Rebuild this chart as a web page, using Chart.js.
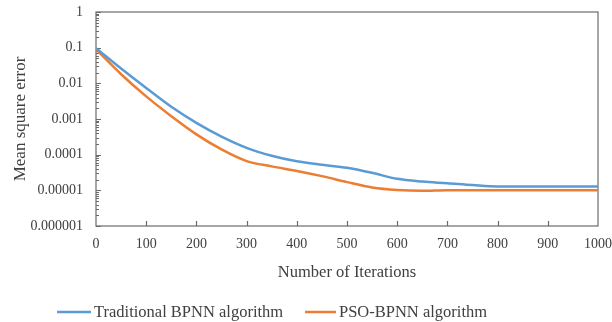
<!DOCTYPE html>
<html>
<head>
<meta charset="utf-8">
<script src="https://cdn.jsdelivr.net/npm/chart.js@4/dist/chart.umd.min.js"></script>
<style>
  html, body { margin: 0; padding: 0; background: #fff; }
  #wrap { width: 612px; height: 322px; }
</style>
</head>
<body>
<div id="wrap"><canvas id="mse-chart" width="612" height="322"></canvas></div>
<script>
// iterations and mean square error
const iterations = [0, 50, 100, 150, 200, 250, 300, 350, 400, 450, 500, 550, 600, 650, 700, 750, 800, 850, 900, 950, 1000];
const bpnnError = [0.097, 0.026, 0.0074, 0.0022, 0.00078, 0.00032, 0.000155, 0.000093, 0.000065, 0.000052, 0.000043, 0.000031, 0.000021, 0.0000176, 0.0000158, 0.000014, 0.0000128, 0.0000128, 0.0000128, 0.0000128, 0.0000128];
const psoError = [0.09, 0.018, 0.0043, 0.0012, 0.00037, 0.00014, 0.000066, 0.000047, 0.000035, 0.000025, 0.000017, 0.000012, 0.0000102, 0.0000097, 0.0000101, 0.00001, 0.00001, 0.00001, 0.00001, 0.00001, 0.00001];
const seriesNames = ['Traditional BPNN algorithm', 'PSO-BPNN algorithm'];
const yTicks = [0.000001, 0.00001, 0.0001, 0.001, 0.01, 0.1, 1];

const serif = 'Liberation Serif';
const textColor = '#404040';
const frameColor = '#6b6b6b';

function toPoints(ys) {
    return iterations.map((x, i) => ({ x: x, y: ys[i] }));
}

// frame, inner tick marks and legend drawn by hand
const framePlugin = {
    id: 'frame',
    beforeDatasetsDraw(chart) {
        const { ctx, chartArea: a, scales } = chart;
        ctx.save();
        ctx.strokeStyle = frameColor;
        ctx.lineWidth = 1.2;
        ctx.strokeRect(a.left, a.top, a.right - a.left, a.bottom - a.top);

        // log minor ticks on the y axis
        ctx.beginPath();
        for (let d = 0; d < yTicks.length; d++) {
            const base = yTicks[d];
            for (let k = 1; k <= 9; k++) {
                const v = base * k;
                if (v > 1) break;
                const py = Math.round(scales.y.getPixelForValue(v)) + 0.5;
                const len = k === 1 ? 5 : 3;
                ctx.moveTo(a.left, py);
                ctx.lineTo(a.left + len, py);
            }
        }
        // x ticks pointing up
        for (let v = 100; v < 1000; v += 100) {
            const px = Math.round(scales.x.getPixelForValue(v)) + 0.5;
            ctx.moveTo(px, a.bottom);
            ctx.lineTo(px, a.bottom - 5);
        }
        ctx.stroke();
        ctx.restore();
    },
    afterDraw(chart) {
        const ctx = chart.ctx;
        const sets = chart.data.datasets;
        const y = 312;
        const lineStart = [57, 305];
        const lineEnd = [91, 336];
        ctx.save();
        ctx.font = '16.5px "' + serif + '"';
        ctx.textBaseline = 'middle';
        ctx.fillStyle = textColor;
        sets.forEach((ds, i) => {
            ctx.strokeStyle = ds.borderColor;
            ctx.lineWidth = 2.5;
            ctx.beginPath();
            ctx.moveTo(lineStart[i], y);
            ctx.lineTo(lineEnd[i], y);
            ctx.stroke();
            ctx.fillText(ds.label, lineEnd[i] + 3, y + 1);
        });
        ctx.restore();
    }
};

const ctx = document.getElementById('mse-chart').getContext('2d');
new Chart(ctx, {
    type: 'line',
    data: {
        datasets: [{
            label: seriesNames[0],
            data: toPoints(bpnnError),
            borderColor: '#5b9bd5',
            borderWidth: 2.5,
            pointRadius: 0,
            cubicInterpolationMode: 'monotone'
        }, {
            label: seriesNames[1],
            data: toPoints(psoError),
            borderColor: '#ed7d31',
            borderWidth: 2.5,
            pointRadius: 0,
            cubicInterpolationMode: 'monotone'
        }]
    },
    options: {
        responsive: false,
        animation: false,
        layout: { autoPadding: false, padding: { left: 6, right: 14, top: 12, bottom: 35 } },
        plugins: {
            legend: { display: false },
            tooltip: { enabled: false }
        },
        scales: {
            x: {
                type: 'linear',
                min: 0,
                max: 1000,
                grid: { display: false, drawTicks: false },
                border: { display: false },
                ticks: {
                    stepSize: 100,
                    padding: 10,
                    color: textColor,
                    font: { family: serif, size: 14 },
                    maxRotation: 0,
                    callback: v => String(v)
                },
                title: {
                    display: true,
                    text: 'Number of Iterations',
                    color: textColor,
                    font: { family: serif, size: 16.5 },
                    padding: { top: 4, bottom: 4 }
                },
                afterFit(scale) {
                    scale.height = 61;
                    scale.paddingLeft = 0;
                    scale.paddingRight = 0;
                }
            },
            y: {
                type: 'logarithmic',
                min: 0.000001,
                max: 1,
                grid: { display: false, drawTicks: false },
                border: { display: false },
                afterBuildTicks(scale) {
                    scale.ticks = yTicks.map(v => ({ value: v }));
                },
                ticks: {
                    padding: 13,
                    color: textColor,
                    font: { family: serif, size: 14 },
                    callback: v => v.toString()
                },
                title: {
                    display: true,
                    text: 'Mean square error',
                    color: textColor,
                    font: { family: serif, size: 17 },
                    padding: { top: 4, bottom: 4 }
                },
                afterFit(scale) {
                    scale.width = 90;
                    scale.paddingTop = 0;
                    scale.paddingBottom = 0;
                }
            }
        }
    },
    plugins: [framePlugin]
});
</script>
</body>
</html>
